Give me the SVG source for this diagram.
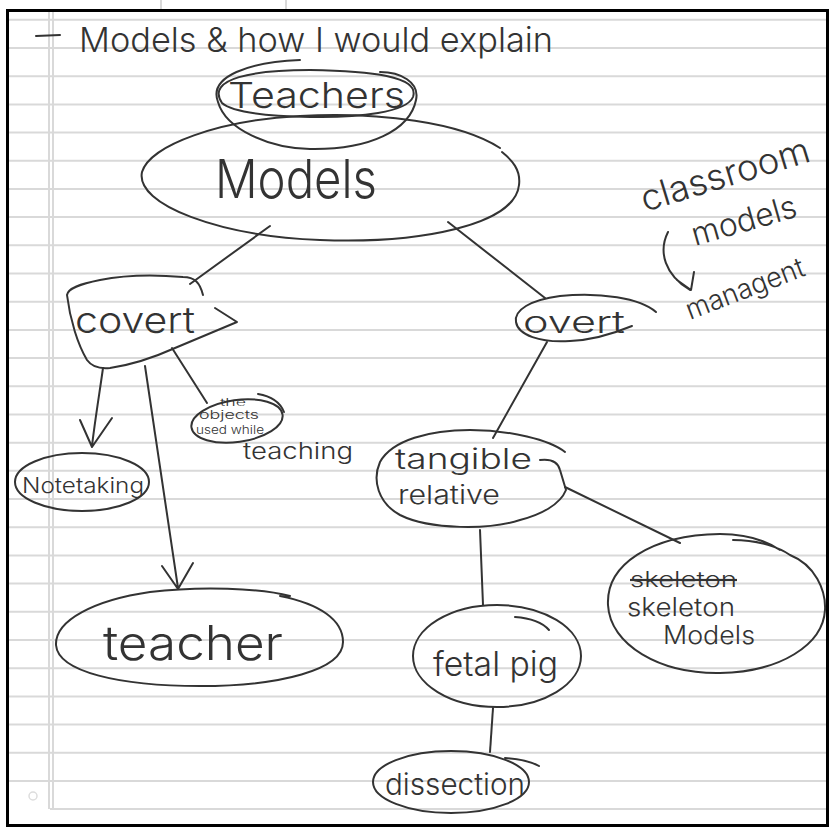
<svg xmlns="http://www.w3.org/2000/svg" width="830" height="827" viewBox="0 0 830 827">
<style>
.rule{stroke:#d9d9d9;stroke-width:2;fill:none}
.ink{stroke:#333;stroke-width:2;fill:none;stroke-linecap:round;stroke-linejoin:round}
.t{font-family:Inter,"Liberation Sans",sans-serif;font-weight:300;fill:#333}
</style>
<rect x="0" y="0" width="830" height="827" fill="#fff"/>
<g id="paper">
<path class="rule" d="M8 19.8H827M8 48H827M8 76.2H827M8 104.4H827M8 132.6H827M8 160.8H827M8 188.9H827M8 217.1H827M8 245.3H827M8 273.5H827M8 301.7H827M8 329.9H827M8 358.1H827M8 386.3H827M8 414.5H827M8 442.7H827M8 470.8H827M8 499H827M8 527.2H827M8 555.4H827M8 583.6H827M8 611.8H827M8 640H827M8 668.2H827M8 696.4H827M8 724.6H827M8 752.8H827M8 780.9H827M50 809H827"/>
<path class="rule" d="M49 12V809M53 12V809M161 0V9M286 0V9"/>
<circle cx="33" cy="796" r="4" fill="none" stroke="#ddd" stroke-width="1.5"/>
<rect x="7.5" y="10.5" width="820" height="815" fill="none" stroke="#000" stroke-width="3"/>
</g>
<g id="title">
<path class="ink" d="M36 36L60 35"/>
<text class="t" x="79" y="52" font-size="34" textLength="474" lengthAdjust="spacingAndGlyphs">Models &amp; how I would explain</text>
</g>
<g id="connectors">
<path class="ink" d="M270 226L190 284"/>
<path class="ink" d="M448 222L545 298"/>
<path class="ink" d="M103 368C100 390 95 420 92 446M80 420L92 447L112 418"/>
<path class="ink" d="M145 366L178 588M162 566L178 589L193 563"/>
<path class="ink" d="M172 348L207 403"/>
<path class="ink" d="M547 342L493 438"/>
<path class="ink" d="M480 530L483 605"/>
<path class="ink" d="M565 487L680 543"/>
<path class="ink" d="M493 708L490 752"/>
</g>
<g id="teachers">
<path class="ink" d="M222 103C205 78 255 70 310 70C370 71 420 76 413 97C407 112 360 118 310 117C265 116 232 112 222 103Z"/>
<path class="ink" d="M300 60C250 62 208 76 218 102C226 130 270 148 310 149C370 150 410 130 416 100C420 82 400 72 380 72"/>
<text class="t" x="228" y="108" font-size="36" textLength="177" lengthAdjust="spacingAndGlyphs">Teachers</text>
</g>
<g id="models">
<path class="ink" d="M500 148C460 122 380 112 300 116C220 120 150 145 142 172C135 205 220 236 320 240C420 244 515 225 519 185C521 170 512 160 502 152"/>
<text class="t" x="215" y="198" font-size="54" textLength="162" lengthAdjust="spacingAndGlyphs">Models</text>
</g>
<g id="covert">
<path class="ink" d="M203 295C200 283 195 277 183 277C160 275 130 274 100 280C80 284 68 288 67 295C70 320 78 345 87 360C92 367 100 369 110 368C130 365 155 357 175 348L237 322L215 308"/>
<text class="t" x="75" y="333" font-size="36" textLength="120" lengthAdjust="spacingAndGlyphs">covert</text>
</g>
<g id="overt">
<path class="ink" d="M656 312C640 298 600 292 560 296C530 300 514 310 516 322C518 335 540 343 570 341C595 340 615 333 632 326"/>
<text class="t" x="523" y="333" font-size="30" textLength="102" lengthAdjust="spacingAndGlyphs">overt</text>
</g>
<g id="objects">
<ellipse class="ink" cx="237" cy="421" rx="46" ry="21" transform="rotate(-8 237 421)"/>
<path class="ink" d="M258 394C270 396 280 402 284 412"/>
<text class="t" x="220" y="406" font-size="10" textLength="26" lengthAdjust="spacingAndGlyphs">the</text>
<text class="t" x="199" y="419" font-size="12" textLength="60" lengthAdjust="spacingAndGlyphs">objects</text>
<text class="t" x="196" y="434" font-size="11" textLength="68" lengthAdjust="spacingAndGlyphs">used while</text>
<text class="t" x="243" y="459" font-size="23" textLength="110" lengthAdjust="spacingAndGlyphs">teaching</text>
</g>
<g id="notetaking">
<ellipse class="ink" cx="82" cy="482" rx="67" ry="29"/>
<text class="t" x="22" y="493" font-size="22" textLength="122" lengthAdjust="spacingAndGlyphs">Notetaking</text>
</g>
<g id="teacher">
<path class="ink" d="M290 596C260 588 200 586 150 592C95 600 55 620 56 645C58 672 120 686 200 686C280 686 343 670 343 642C343 620 320 604 280 596"/>
<text class="t" x="103" y="660" font-size="48" textLength="180" lengthAdjust="spacingAndGlyphs">teacher</text>
</g>
<g id="tangible">
<path class="ink" d="M540 460Q557 458 560 470L566 490C560 505 540 515 520 520C490 530 430 530 400 515C378 503 372 480 380 462C392 440 430 430 470 430C510 430 550 440 565 452"/>
<text class="t" x="395" y="469" font-size="28" textLength="137" lengthAdjust="spacingAndGlyphs">tangible</text>
<text class="t" x="398" y="504" font-size="26" textLength="102" lengthAdjust="spacingAndGlyphs">relative</text>
</g>
<g id="skeleton">
<path class="ink" d="M733 540C760 540 780 548 790 555C815 565 826 590 825 610C823 645 780 672 720 673C660 674 610 645 608 605C606 565 650 535 720 534C745 534 765 540 780 550"/>
<text class="t" x="630" y="587" font-size="22" textLength="107" lengthAdjust="spacingAndGlyphs" text-decoration="line-through">skeleton</text>
<text class="t" x="627" y="616" font-size="25" textLength="108" lengthAdjust="spacingAndGlyphs">skeleton</text>
<text class="t" x="663" y="644" font-size="25" textLength="92" lengthAdjust="spacingAndGlyphs">Models</text>
</g>
<g id="fetal-pig">
<ellipse class="ink" cx="497" cy="656" rx="84" ry="51"/>
<path class="ink" d="M515 617C530 618 542 622 549 630"/>
<text class="t" x="433" y="676" font-size="34" textLength="125" lengthAdjust="spacingAndGlyphs">fetal pig</text>
</g>
<g id="dissection">
<ellipse class="ink" cx="451" cy="782" rx="78" ry="31"/>
<path class="ink" d="M505 758C520 759 532 762 539 766"/>
<text class="t" x="385" y="795" font-size="30" textLength="140" lengthAdjust="spacingAndGlyphs">dissection</text>
</g>
<g id="note">
<text class="t" x="645" y="212" font-size="36" textLength="175" lengthAdjust="spacingAndGlyphs" transform="rotate(-17 645 212)">classroom</text>
<text class="t" x="695" y="246" font-size="32" textLength="108" lengthAdjust="spacingAndGlyphs" transform="rotate(-16 695 246)">models</text>
<path class="ink" d="M668 232C658 252 665 275 690 290M677 280L691 290L694 272"/>
<text class="t" x="690" y="320" font-size="28" textLength="125" lengthAdjust="spacingAndGlyphs" transform="rotate(-21 690 320)">managent</text>
</g>
</svg>
